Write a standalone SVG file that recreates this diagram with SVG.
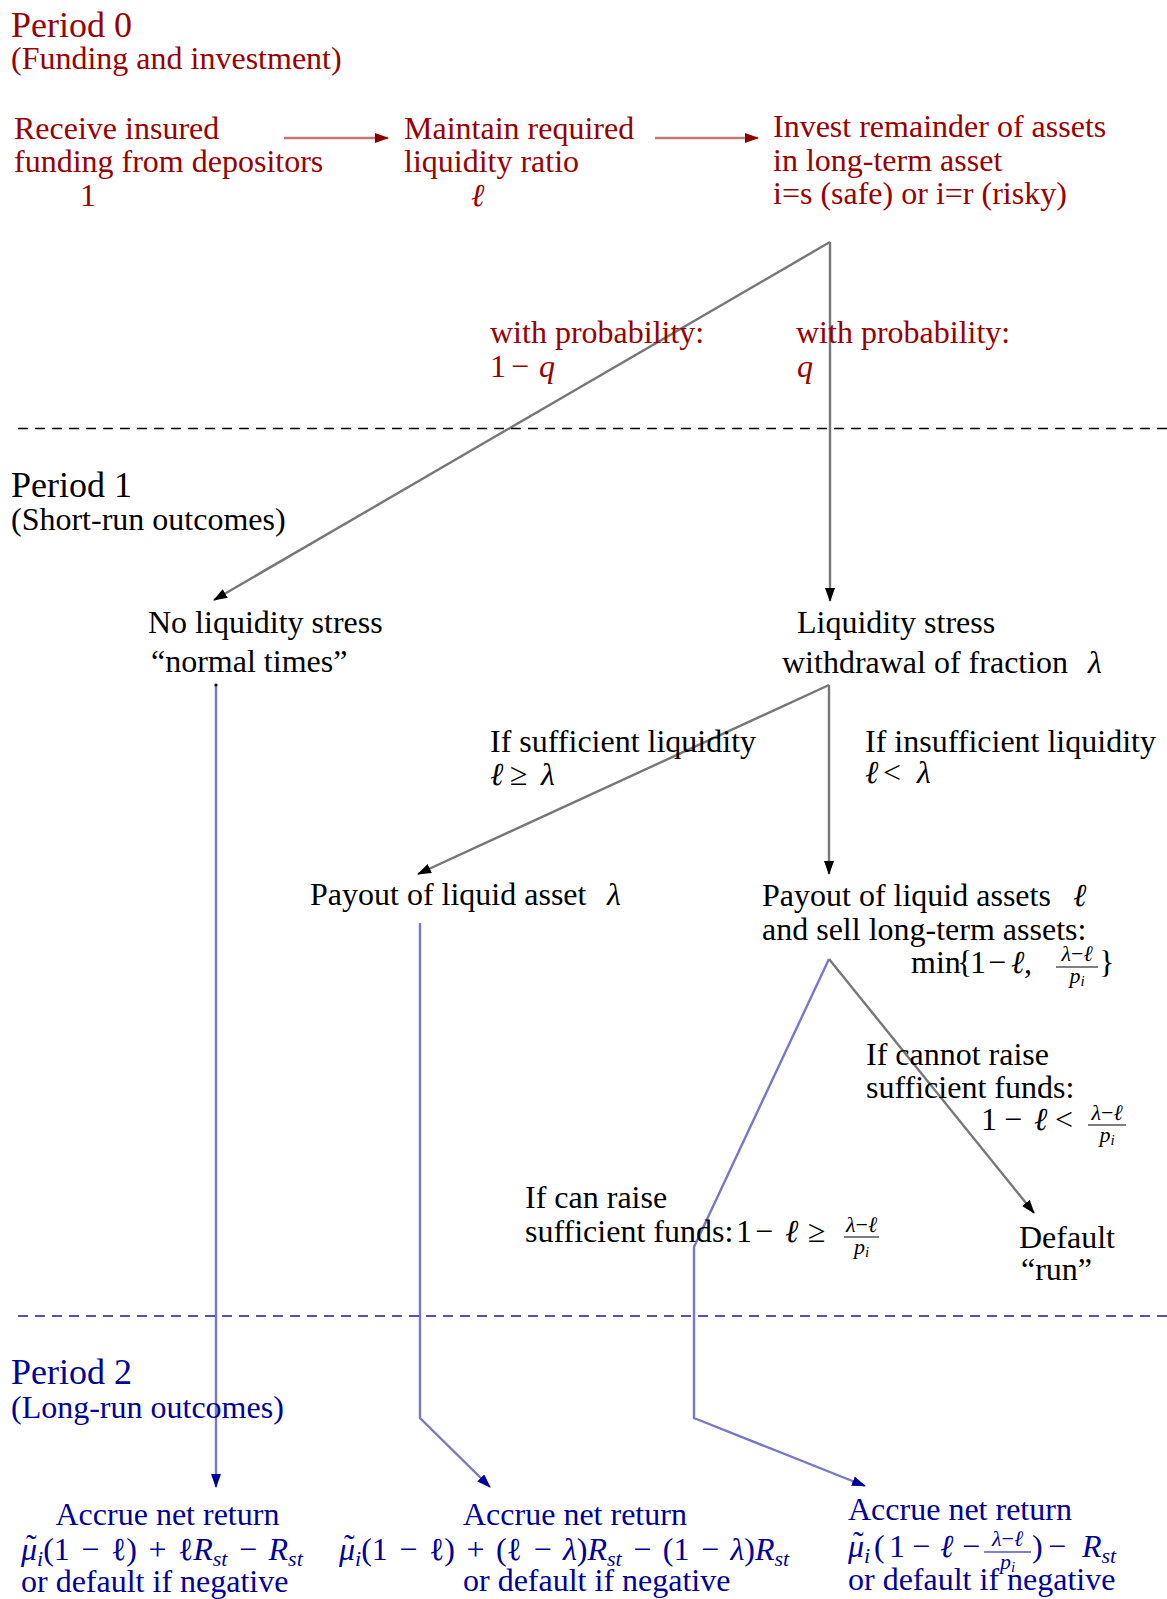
<svg xmlns="http://www.w3.org/2000/svg" width="1167" height="1599" viewBox="0 0 1167 1599">
<defs>
<style>
text{font-family:"Liberation Serif","Times New Roman",serif;font-size:32px}
.red{fill:#990000}
.blk{fill:#000}
.blu{fill:#000099}
.hd{font-size:36px}
.it{font-style:italic}
.sb{font-size:22px;font-style:italic}
.fr{font-size:22px}
.ss{font-size:15px;font-style:italic}
.ws{word-spacing:3.5px}
.gray{stroke:#777;stroke-width:2.4;fill:none}
.bl{stroke:#7878c8;stroke-width:2.4;fill:none}
.rd{stroke:#c07a7a;stroke-width:2.6;fill:none}
.dash{stroke-width:1.6;stroke-dasharray:10 7;fill:none}
.frk{stroke:#000;stroke-width:1.2}
.frb{stroke:#000099;stroke-width:1.2}
</style>
<marker id="aBlk" markerUnits="userSpaceOnUse" viewBox="0 0 14 10" markerWidth="14" markerHeight="10" refX="13" refY="5" orient="auto"><path d="M0,0 L14,5 L0,10 z" fill="#000"/></marker>
<marker id="aBlu" markerUnits="userSpaceOnUse" viewBox="0 0 14 10" markerWidth="14" markerHeight="10" refX="13" refY="5" orient="auto"><path d="M0,0 L14,5 L0,10 z" fill="#000099"/></marker>
<marker id="aRed" markerUnits="userSpaceOnUse" viewBox="0 0 14 10" markerWidth="14" markerHeight="10" refX="13" refY="5" orient="auto"><path d="M0,0 L14,5 L0,10 z" fill="#8b0000"/></marker>
</defs>

<g id="connectors">
  <path class="rd" d="M284,138 H388" marker-end="url(#aRed)"/>
  <path class="rd" d="M655,138 H758" marker-end="url(#aRed)"/>
  <path class="gray" d="M830,242 L214,600" marker-end="url(#aBlk)"/>
  <path class="gray" d="M830,242 L830,601" marker-end="url(#aBlk)"/>
  <path class="gray" d="M829,685 L418,874" marker-end="url(#aBlk)"/>
  <path class="gray" d="M829,685 L829,874" marker-end="url(#aBlk)"/>
  <path class="gray" d="M829,959 L1034,1213" marker-end="url(#aBlk)"/>
  <path class="bl" d="M216,685 L216,1487" marker-end="url(#aBlu)"/>
  <circle cx="216" cy="685" r="1.6" fill="#000"/>
  <path class="bl" d="M420,923 L420,1418 L490,1487" marker-end="url(#aBlu)"/>
  <path class="bl" d="M829,959 L694,1247 L694,1418 L865,1486" marker-end="url(#aBlu)"/>
  <path class="dash" stroke="#000" d="M18,428.5 H1167"/>
  <path class="dash" stroke="#1a1aa0" d="M18,1316 H1167"/>
</g>

<g id="period0" class="red">
  <text x="11" y="37" class="hd">Period 0</text>
  <text x="11" y="69">(Funding and investment)</text>
</g>

<g id="n_funding" class="red">
  <text x="14" y="139">Receive insured</text>
  <text x="14" y="172">funding from depositors</text>
  <text x="80" y="206">1</text>
</g>

<g id="n_liquidity_ratio" class="red">
  <text x="404" y="139">Maintain required</text>
  <text x="404" y="172">liquidity ratio</text>
  <text x="471" y="206" class="it">ℓ</text>
</g>

<g id="n_invest" class="red">
  <text x="773" y="137">Invest remainder of assets</text>
  <text x="773" y="171">in long-term asset</text>
  <text x="773" y="204">i=s (safe) or i=r (risky)</text>
</g>

<g id="lbl_prob_1mq" class="red">
  <text x="490" y="343">with probability:</text>
  <text y="377"><tspan x="490">1</tspan><tspan x="511">−</tspan><tspan x="539" class="it">q</tspan></text>
</g>

<g id="lbl_prob_q" class="red">
  <text x="796" y="343">with probability:</text>
  <text x="797" y="377" class="it">q</text>
</g>

<g id="period1" class="blk">
  <text x="11" y="497" class="hd">Period 1</text>
  <text x="11" y="530">(Short-run outcomes)</text>
</g>

<g id="n_normal" class="blk">
  <text x="148" y="633">No liquidity stress</text>
  <text x="151" y="672">“normal times”</text>
</g>

<g id="n_stress" class="blk">
  <text x="797" y="633">Liquidity stress</text>
  <text x="782" y="673">withdrawal of fraction</text>
  <text x="1088" y="673" class="it">λ</text>
</g>

<g id="lbl_sufficient" class="blk">
  <text x="490" y="752">If sufficient liquidity</text>
  <text y="785"><tspan x="490" class="it">ℓ</tspan><tspan x="510">≥</tspan><tspan x="541" class="it">λ</tspan></text>
</g>

<g id="lbl_insufficient" class="blk">
  <text x="865" y="752">If insufficient liquidity</text>
  <text y="783"><tspan x="865" class="it">ℓ</tspan><tspan x="883">&lt;</tspan><tspan x="917" class="it">λ</tspan></text>
</g>

<g id="n_payout_lambda" class="blk">
  <text x="310" y="905">Payout of liquid asset</text>
  <text x="607" y="905" class="it">λ</text>
</g>

<g id="n_payout_ell" class="blk">
  <text x="762" y="906">Payout of liquid assets</text>
  <text x="1073" y="906" class="it">ℓ</text>
  <text x="762" y="940">and sell long-term assets:</text>
  <text y="973"><tspan x="911">min</tspan><tspan x="957">{</tspan><tspan x="970">1</tspan><tspan x="988">−</tspan><tspan x="1011" class="it">ℓ</tspan><tspan x="1024">,</tspan><tspan x="1099">}</tspan></text>
  <text x="1077" y="961" class="fr" text-anchor="middle"><tspan class="it">λ</tspan>−<tspan class="it">ℓ</tspan></text>
  <line class="frk" x1="1056" y1="967" x2="1098" y2="967"/>
  <text x="1077" y="983" class="fr it" text-anchor="middle">p<tspan class="ss" dy="3">i</tspan></text>
</g>

<g id="lbl_cannot_raise" class="blk">
  <text x="866" y="1065">If cannot raise</text>
  <text x="866" y="1098">sufficient funds:</text>
  <text y="1130"><tspan x="981">1</tspan><tspan x="1004">−</tspan><tspan x="1034" class="it">ℓ</tspan><tspan x="1055">&lt;</tspan></text>
  <text x="1107" y="1120" class="fr" text-anchor="middle"><tspan class="it">λ</tspan>−<tspan class="it">ℓ</tspan></text>
  <line class="frk" x1="1088" y1="1125" x2="1126" y2="1125"/>
  <text x="1107" y="1142" class="fr it" text-anchor="middle">p<tspan class="ss" dy="3">i</tspan></text>
</g>

<g id="lbl_can_raise" class="blk">
  <text x="525" y="1208">If can raise</text>
  <text x="525" y="1242">sufficient funds:</text>
  <text y="1242"><tspan x="736">1</tspan><tspan x="755">−</tspan><tspan x="785" class="it">ℓ</tspan><tspan x="808">≥</tspan></text>
  <text x="861.5" y="1232" class="fr" text-anchor="middle"><tspan class="it">λ</tspan>−<tspan class="it">ℓ</tspan></text>
  <line class="frk" x1="844" y1="1237" x2="879" y2="1237"/>
  <text x="861.5" y="1254" class="fr it" text-anchor="middle">p<tspan class="ss" dy="3">i</tspan></text>
</g>

<g id="n_default" class="blk">
  <text x="1019" y="1248">Default</text>
  <text x="1021" y="1280">“run”</text>
</g>

<g id="period2" class="blu">
  <text x="11" y="1384" class="hd">Period 2</text>
  <text x="11" y="1418">(Long-run outcomes)</text>
</g>

<g id="n_return_normal" class="blu">
  <text x="55.5" y="1525">Accrue net return</text>
  <text x="21" y="1560" class="ws"><tspan class="it">μ</tspan><tspan class="sb" dy="6">i</tspan><tspan dy="-6">(1 − ℓ) + ℓ</tspan><tspan class="it">R</tspan><tspan class="sb" dy="6">st</tspan><tspan dy="-6"> − </tspan><tspan class="it">R</tspan><tspan class="sb" dy="6">st</tspan></text>
  <text x="26" y="1556">˜</text>
  <text x="21" y="1592">or default if negative</text>
</g>

<g id="n_return_liquid" class="blu">
  <text x="463" y="1525">Accrue net return</text>
  <text x="339" y="1560" class="ws"><tspan class="it">μ</tspan><tspan class="sb" dy="6">i</tspan><tspan dy="-6">(1 − ℓ) + (ℓ − </tspan><tspan class="it">λ</tspan><tspan>)</tspan><tspan class="it">R</tspan><tspan class="sb" dy="6">st</tspan><tspan dy="-6"> − (1 − </tspan><tspan class="it">λ</tspan><tspan>)</tspan><tspan class="it">R</tspan><tspan class="sb" dy="6">st</tspan></text>
  <text x="344" y="1556">˜</text>
  <text x="463" y="1591">or default if negative</text>
</g>

<g id="n_return_sell" class="blu">
  <text x="848" y="1520">Accrue net return</text>
  <text y="1557"><tspan x="848" class="it">μ</tspan><tspan class="sb" dy="6">i</tspan><tspan x="874" dy="-6">(</tspan><tspan x="889">1</tspan><tspan x="912">−</tspan><tspan x="940" class="it">ℓ</tspan><tspan x="962">−</tspan><tspan x="1032">)</tspan><tspan x="1048">−</tspan><tspan x="1082" class="it">R</tspan><tspan class="sb" dy="6">st</tspan></text>
  <text x="853" y="1553">˜</text>
  <text x="1007.5" y="1546" class="fr" text-anchor="middle"><tspan class="it">λ</tspan>−<tspan class="it">ℓ</tspan></text>
  <line class="frb" x1="984" y1="1552" x2="1031" y2="1552"/>
  <text x="1007.5" y="1569" class="fr it" text-anchor="middle">p<tspan class="ss" dy="3">i</tspan></text>
  <text x="848" y="1590">or default if negative</text>
</g>
</svg>
